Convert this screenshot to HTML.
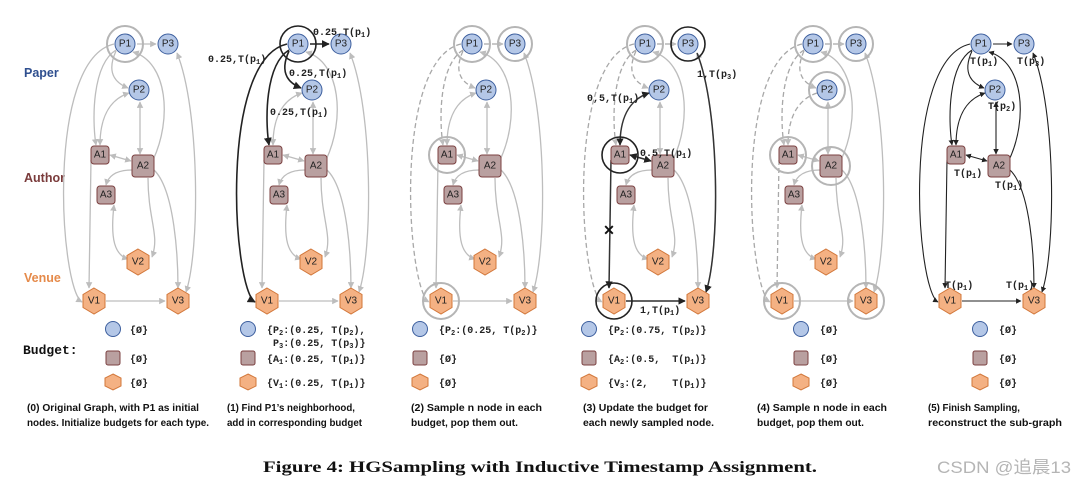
<!DOCTYPE html>
<html><head><meta charset="utf-8"><style>
html,body{margin:0;padding:0;background:#fff;}
svg{display:block}
.nl{font:10px "Liberation Sans",sans-serif;fill:#222;text-anchor:middle;dominant-baseline:central}
.mono{font:bold 10px "Liberation Mono",monospace;fill:#222}
.pre{white-space:pre}
.cap{font:bold 10.5px "Liberation Sans",sans-serif;fill:#111}
.g{fill:none;stroke:#bdbdbd;stroke-width:1.3}
.k{fill:none;stroke:#222;stroke-width:1.5}
.ring{fill:none;stroke:#b5b5b5;stroke-width:2}
.kring{fill:none;stroke:#222;stroke-width:1.6}
.pp{fill:#b4c7e7;stroke:#3d5f9e;stroke-width:1}
.aa{fill:#b9a0a0;stroke:#7b4040;stroke-width:1}
.vv{fill:#f4b183;stroke:#d2773a;stroke-width:1}
</style></head><body>
<svg width="1086" height="485" viewBox="0 0 1086 485" xmlns="http://www.w3.org/2000/svg">
<defs>
<marker id="ga" viewBox="0 0 10 10" refX="9" refY="5" markerWidth="5" markerHeight="5" orient="auto-start-reverse"><path d="M0,0L10,5L0,10z" fill="#bdbdbd"/></marker>
<marker id="ka" viewBox="0 0 10 10" refX="9" refY="5" markerWidth="5" markerHeight="5" orient="auto-start-reverse"><path d="M0,0L10,5L0,10z" fill="#222"/></marker>
<g id="base">
<path class="g" d="M153,160 C172,120 168,62 133,52" marker-end="url(#ga)"/>
<path class="g" d="M140,102 L140,154" marker-start="url(#ga)" marker-end="url(#ga)"/>
<path class="g" d="M110,155 L131,161" marker-start="url(#ga)" marker-end="url(#ga)"/>
<path class="g" d="M132,170 Q110,170 106,185" marker-end="url(#ga)"/>
<path class="g" d="M114,205 C110,240 115,255 128,259" marker-start="url(#ga)" marker-end="url(#ga)"/>
<path class="g" d="M148,178 C148,220 160,235 152,257" marker-end="url(#ga)"/>
<path class="g" d="M154,170 C175,190 178,260 178,288" marker-end="url(#ga)"/>
<path class="g" d="M177,53 C200,110 200,250 186,292" marker-start="url(#ga)" marker-end="url(#ga)"/>
<path class="g" d="M106,301 L165,301" marker-end="url(#ga)"/>
</g>
<g id="shapes">
<circle class="pp" cx="125" cy="44" r="10"/>
<circle class="pp" cx="168" cy="44" r="10"/>
<circle class="pp" cx="139" cy="90" r="10"/>
<rect class="aa" x="91" y="146" width="18" height="18" rx="3"/>
<rect class="aa" x="132" y="155" width="22" height="22" rx="3"/>
<rect class="aa" x="97" y="186" width="18" height="18" rx="3"/>
<polygon class="vv" points="138,249 149,255.5 149,268.5 138,275 127,268.5 127,255.5"/>
<polygon class="vv" points="94,288 105,294.5 105,307.5 94,314 83,307.5 83,294.5"/>
<polygon class="vv" points="178,288 189,294.5 189,307.5 178,314 167,307.5 167,294.5"/>
</g>
<g id="p1e">
<path d="M137,44 L156,44"/>
<path d="M116,51 C105,75 118,84 128,88"/>
<path d="M116,50 C92,65 92,120 96,145"/>
<path d="M114,44 C45,60 60,290 82,302"/>
</g>
<g id="a1e">
<path d="M129,93 C108,100 100,120 100,145"/>
<path d="M91,160 L89,288"/>
</g>
</defs>

<text x="24" y="77" style="font:bold 12.5px 'Liberation Sans',sans-serif;fill:#2f4f8f">Paper</text>
<text x="24" y="182" style="font:bold 12.5px 'Liberation Sans',sans-serif;fill:#7a3b3b">Author</text>
<text x="24" y="282" style="font:bold 12.5px 'Liberation Sans',sans-serif;fill:#e58a4a">Venue</text>
<text x="23" y="354" style="font:bold 13px 'Liberation Mono',monospace;fill:#111">Budget:</text>

<!-- Panel 0 -->
<g>
<use href="#base"/>
<use href="#p1e" marker-end="url(#ga)" style="fill:none;stroke:#bdbdbd;stroke-width:1.3"/>
<g style="fill:none;stroke:#bdbdbd;stroke-width:1.3"><path d="M129,93 C108,100 100,120 100,145" marker-start="url(#ga)" marker-end="url(#ga)"/><path d="M91,160 L89,288" marker-end="url(#ga)"/></g>
<circle class="ring" cx="125" cy="44" r="18"/>
<use href="#shapes"/>
</g>
<g class="nl"><text x="125" y="44">P1</text><text x="168" y="44">P3</text><text x="139" y="90">P2</text><text x="100" y="155">A1</text><text x="143" y="166">A2</text><text x="106" y="195">A3</text><text x="138" y="262">V2</text><text x="94" y="301">V1</text><text x="178" y="301">V3</text></g>

<!-- Panel 1 -->
<g transform="translate(173,0)">
<use href="#base"/>
<g style="fill:none;stroke:#bdbdbd;stroke-width:1.3"><path d="M129,93 C108,100 100,120 100,145" marker-start="url(#ga)" marker-end="url(#ga)"/><path d="M91,160 L89,288" marker-end="url(#ga)"/></g>
<g style="fill:none;stroke:#222;stroke-width:1.6" marker-end="url(#ka)">
<path d="M137,44 L156,44"/><path d="M116,51 C105,75 118,84 128,88"/><path d="M116,50 C92,65 92,120 96,145"/><path d="M114,44 C45,60 60,290 82,302"/>
</g>
<circle class="kring" cx="125" cy="44" r="18"/>
<use href="#shapes"/>
</g>
<g class="nl" transform="translate(173,0)"><text x="125" y="44">P1</text><text x="168" y="44">P3</text><text x="139" y="90">P2</text><text x="100" y="155">A1</text><text x="143" y="166">A2</text><text x="106" y="195">A3</text><text x="138" y="262">V2</text><text x="94" y="301">V1</text><text x="178" y="301">V3</text></g>
<g class="mono"><text x="313" y="35">0.25,T(p<tspan font-size="7" dy="2">1</tspan><tspan dy="-2">)</tspan></text>
<text x="208" y="62">0.25,T(p<tspan font-size="7" dy="2">1</tspan><tspan dy="-2">)</tspan></text>
<text x="289" y="76">0.25,T(p<tspan font-size="7" dy="2">1</tspan><tspan dy="-2">)</tspan></text>
<text x="270" y="115">0.25,T(p<tspan font-size="7" dy="2">1</tspan><tspan dy="-2">)</tspan></text></g>

<!-- Panel 2 -->
<g transform="translate(347,0)">
<use href="#base"/>
<g style="fill:none;stroke:#bdbdbd;stroke-width:1.3"><path d="M129,93 C108,100 100,120 100,145" marker-start="url(#ga)" marker-end="url(#ga)"/><path d="M91,160 L89,288" marker-end="url(#ga)"/></g>
<use href="#p1e" style="fill:none;stroke:#a8a8a8;stroke-width:1.3;stroke-dasharray:5 3" marker-end="url(#ga)"/>
<circle class="ring" cx="125" cy="44" r="18"/><circle class="ring" cx="168" cy="44" r="17"/>
<circle class="ring" cx="100" cy="155" r="18"/><circle class="ring" cx="94" cy="301" r="18"/>
<use href="#shapes"/>
</g>
<g class="nl" transform="translate(347,0)"><text x="125" y="44">P1</text><text x="168" y="44">P3</text><text x="139" y="90">P2</text><text x="100" y="155">A1</text><text x="143" y="166">A2</text><text x="106" y="195">A3</text><text x="138" y="262">V2</text><text x="94" y="301">V1</text><text x="178" y="301">V3</text></g>

<!-- Panel 3 -->
<g transform="translate(520,0)">
<use href="#base"/>
<use href="#p1e" style="fill:none;stroke:#a8a8a8;stroke-width:1.3;stroke-dasharray:5 3" marker-end="url(#ga)"/>
<g style="fill:none;stroke:#333;stroke-width:1.5">
<path d="M129,93 C108,100 100,120 100,145" marker-start="url(#ka)" marker-end="url(#ka)"/>
<path d="M91,160 L89,288" marker-end="url(#ka)"/>
<path d="M106,301 L165,301" marker-end="url(#ka)"/>
<path d="M177,53 C200,110 200,250 186,292" marker-end="url(#ka)"/>
<path d="M110,155 L131,161" marker-start="url(#ka)" marker-end="url(#ka)"/>
</g>
<text x="89" y="230" style="font:bold 14px 'Liberation Sans',sans-serif;fill:#111" text-anchor="middle" dominant-baseline="central">✕</text>
<circle class="ring" cx="125" cy="44" r="18"/><circle class="kring" cx="168" cy="44" r="17"/>
<circle class="kring" cx="100" cy="155" r="18"/><circle class="kring" cx="94" cy="301" r="18"/>
<use href="#shapes"/>
</g>
<g class="nl" transform="translate(520,0)"><text x="125" y="44">P1</text><text x="168" y="44">P3</text><text x="139" y="90">P2</text><text x="100" y="155">A1</text><text x="143" y="166">A2</text><text x="106" y="195">A3</text><text x="138" y="262">V2</text><text x="94" y="301">V1</text><text x="178" y="301">V3</text></g>
<g class="mono"><text x="697" y="77">1,T(p<tspan font-size="7" dy="2">3</tspan><tspan dy="-2">)</tspan></text>
<text x="587" y="101">0,5,T(p<tspan font-size="7" dy="2">1</tspan><tspan dy="-2">)</tspan></text>
<text x="640" y="156">0.5,T(p<tspan font-size="7" dy="2">1</tspan><tspan dy="-2">)</tspan></text>
<text x="640" y="313">1,T(p<tspan font-size="7" dy="2">1</tspan><tspan dy="-2">)</tspan></text></g>

<!-- Panel 4 -->
<g transform="translate(688,0)">
<use href="#base"/>
<use href="#p1e" style="fill:none;stroke:#a8a8a8;stroke-width:1.3;stroke-dasharray:5 3" marker-end="url(#ga)"/>
<use href="#a1e" style="fill:none;stroke:#a8a8a8;stroke-width:1.3;stroke-dasharray:5 3" marker-end="url(#ga)"/>
<circle class="ring" cx="125" cy="44" r="18"/><circle class="ring" cx="168" cy="44" r="17"/>
<circle class="ring" cx="139" cy="90" r="18"/><circle class="ring" cx="100" cy="155" r="18"/>
<circle class="ring" cx="143" cy="166" r="19"/><circle class="ring" cx="94" cy="301" r="18"/><circle class="ring" cx="178" cy="301" r="18"/>
<use href="#shapes"/>
</g>
<g class="nl" transform="translate(688,0)"><text x="125" y="44">P1</text><text x="168" y="44">P3</text><text x="139" y="90">P2</text><text x="100" y="155">A1</text><text x="143" y="166">A2</text><text x="106" y="195">A3</text><text x="138" y="262">V2</text><text x="94" y="301">V1</text><text x="178" y="301">V3</text></g>

<!-- Panel 5 -->
<g transform="translate(856,0)">
<g style="fill:none;stroke:#222;stroke-width:1.1">
<path d="M137,44 L156,44" marker-end="url(#ka)"/>
<path d="M116,51 C105,75 118,84 128,88" marker-end="url(#ka)"/>
<path d="M116,50 C92,65 92,120 96,145" marker-end="url(#ka)"/>
<path d="M114,44 C45,60 60,290 82,302" marker-end="url(#ka)"/>
<path d="M153,160 C172,120 168,62 133,52" marker-end="url(#ka)"/>
<path d="M140,102 L140,154" marker-start="url(#ka)" marker-end="url(#ka)"/>
<path d="M110,155 L131,161" marker-start="url(#ka)" marker-end="url(#ka)"/>
<path d="M129,93 C108,100 100,120 100,145" marker-start="url(#ka)" marker-end="url(#ka)"/>
<path d="M91,160 L89,288" marker-end="url(#ka)"/>
<path d="M154,170 C175,190 178,260 178,288" marker-end="url(#ka)"/>
<path d="M177,53 C200,110 200,250 186,292" marker-start="url(#ka)" marker-end="url(#ka)"/>
<path d="M106,301 L165,301" marker-end="url(#ka)"/>
</g>
<circle class="pp" cx="125" cy="44" r="10"/>
<circle class="pp" cx="168" cy="44" r="10"/>
<circle class="pp" cx="139" cy="90" r="10"/>
<rect class="aa" x="91" y="146" width="18" height="18" rx="3"/>
<rect class="aa" x="132" y="155" width="22" height="22" rx="3"/>
<polygon class="vv" points="94,288 105,294.5 105,307.5 94,314 83,307.5 83,294.5"/>
<polygon class="vv" points="178,288 189,294.5 189,307.5 178,314 167,307.5 167,294.5"/>
</g>
<g class="nl" transform="translate(856,0)"><text x="125" y="44">P1</text><text x="168" y="44">P3</text><text x="139" y="90">P2</text><text x="100" y="155">A1</text><text x="143" y="166">A2</text><text x="94" y="301">V1</text><text x="178" y="301">V3</text></g>
<g class="mono">
<text x="970" y="64">T(p<tspan font-size="7" dy="2">1</tspan><tspan dy="-2">)</tspan></text>
<text x="1017" y="64">T(p<tspan font-size="7" dy="2">3</tspan><tspan dy="-2">)</tspan></text>
<text x="988" y="109">T(p<tspan font-size="7" dy="2">2</tspan><tspan dy="-2">)</tspan></text>
<text x="954" y="176">T(p<tspan font-size="7" dy="2">1</tspan><tspan dy="-2">)</tspan></text>
<text x="995" y="188">T(p<tspan font-size="7" dy="2">1</tspan><tspan dy="-2">)</tspan></text>
<text x="945" y="288">T(p<tspan font-size="7" dy="2">1</tspan><tspan dy="-2">)</tspan></text>
<text x="1006" y="288">T(p<tspan font-size="7" dy="2">1</tspan><tspan dy="-2">)</tspan></text>
</g>

<!-- Budgets -->
<g>
<circle class="pp" cx="113" cy="329" r="7.5"/><rect class="aa" x="106" y="351" width="14" height="14" rx="2"/><polygon class="vv" points="113,374 121,378 121,386 113,390 105,386 105,378"/>
<circle class="pp" cx="248" cy="329" r="7.5"/><rect class="aa" x="241" y="351" width="14" height="14" rx="2"/><polygon class="vv" points="248,374 256,378 256,386 248,390 240,386 240,378"/>
<circle class="pp" cx="420" cy="329" r="7.5"/><rect class="aa" x="413" y="351" width="14" height="14" rx="2"/><polygon class="vv" points="420,374 428,378 428,386 420,390 412,386 412,378"/>
<circle class="pp" cx="589" cy="329" r="7.5"/><rect class="aa" x="582" y="351" width="14" height="14" rx="2"/><polygon class="vv" points="589,374 597,378 597,386 589,390 581,386 581,378"/>
<circle class="pp" cx="801" cy="329" r="7.5"/><rect class="aa" x="794" y="351" width="14" height="14" rx="2"/><polygon class="vv" points="801,374 809,378 809,386 801,390 793,386 793,378"/>
<circle class="pp" cx="980" cy="329" r="7.5"/><rect class="aa" x="973" y="351" width="14" height="14" rx="2"/><polygon class="vv" points="980,374 988,378 988,386 980,390 972,386 972,378"/>
</g>
<g class="mono">
<text x="130" y="333">{Ø}</text><text x="130" y="362">{Ø}</text><text x="130" y="386">{Ø}</text>
<text x="267" y="333" class="pre">{P<tspan font-size="7" dy="2">2</tspan><tspan dy="-2">:(0.25, T(p</tspan><tspan font-size="7" dy="2">2</tspan><tspan dy="-2">),</tspan></text>
<text x="273" y="346" class="pre">P<tspan font-size="7" dy="2">3</tspan><tspan dy="-2">:(0.25, T(p</tspan><tspan font-size="7" dy="2">3</tspan><tspan dy="-2">)}</tspan></text>
<text x="267" y="362" class="pre">{A<tspan font-size="7" dy="2">1</tspan><tspan dy="-2">:(0.25, T(p</tspan><tspan font-size="7" dy="2">1</tspan><tspan dy="-2">)}</tspan></text>
<text x="267" y="386" class="pre">{V<tspan font-size="7" dy="2">1</tspan><tspan dy="-2">:(0.25, T(p</tspan><tspan font-size="7" dy="2">1</tspan><tspan dy="-2">)}</tspan></text>
<text x="439" y="333" class="pre">{P<tspan font-size="7" dy="2">2</tspan><tspan dy="-2">:(0.25, T(p</tspan><tspan font-size="7" dy="2">2</tspan><tspan dy="-2">)}</tspan></text>
<text x="439" y="362">{Ø}</text><text x="439" y="386">{Ø}</text>
<text x="608" y="333" class="pre">{P<tspan font-size="7" dy="2">2</tspan><tspan dy="-2">:(0.75, T(p</tspan><tspan font-size="7" dy="2">2</tspan><tspan dy="-2">)}</tspan></text>
<text x="608" y="362" class="pre" xml:space="preserve">{A<tspan font-size="7" dy="2">2</tspan><tspan dy="-2">:(0.5,  T(p</tspan><tspan font-size="7" dy="2">1</tspan><tspan dy="-2">)}</tspan></text>
<text x="608" y="386" class="pre" xml:space="preserve">{V<tspan font-size="7" dy="2">3</tspan><tspan dy="-2">:(2,    T(p</tspan><tspan font-size="7" dy="2">1</tspan><tspan dy="-2">)}</tspan></text>
<text x="820" y="333">{Ø}</text><text x="820" y="362">{Ø}</text><text x="820" y="386">{Ø}</text>
<text x="999" y="333">{Ø}</text><text x="999" y="362">{Ø}</text><text x="999" y="386">{Ø}</text>
</g>

<!-- captions -->
<g class="cap">
<text x="27" y="411" textLength="172" lengthAdjust="spacingAndGlyphs">(0) Original Graph, with  P1 as initial</text>
<text x="27" y="426" textLength="182" lengthAdjust="spacingAndGlyphs">nodes. Initialize budgets for each type.</text>
<text x="227" y="411" textLength="128" lengthAdjust="spacingAndGlyphs">(1) Find P1’s neighborhood,</text>
<text x="227" y="426" textLength="135" lengthAdjust="spacingAndGlyphs">add in corresponding budget</text>
<text x="411" y="411" textLength="131" lengthAdjust="spacingAndGlyphs">(2) Sample n node in each</text>
<text x="411" y="426" textLength="107" lengthAdjust="spacingAndGlyphs">budget, pop them out.</text>
<text x="583" y="411" textLength="125" lengthAdjust="spacingAndGlyphs">(3) Update the budget for</text>
<text x="583" y="426" textLength="131" lengthAdjust="spacingAndGlyphs">each newly sampled node.</text>
<text x="757" y="411" textLength="130" lengthAdjust="spacingAndGlyphs">(4) Sample n node in each</text>
<text x="757" y="426" textLength="107" lengthAdjust="spacingAndGlyphs">budget, pop them out.</text>
<text x="928" y="411" textLength="92" lengthAdjust="spacingAndGlyphs">(5) Finish Sampling,</text>
<text x="928" y="426" textLength="134" lengthAdjust="spacingAndGlyphs">reconstruct the sub-graph</text>
</g>
<text x="263" y="472" textLength="554" lengthAdjust="spacingAndGlyphs" style="font:bold 15.5px 'Liberation Serif',serif;fill:#111">Figure 4: HGSampling with Inductive Timestamp Assignment.</text>
<text x="937" y="473" textLength="134" lengthAdjust="spacingAndGlyphs" style="font:17px 'Liberation Sans','Noto Sans CJK SC',sans-serif;fill:#b5b5b5">CSDN @追晨13</text>
</svg>
</body></html>
